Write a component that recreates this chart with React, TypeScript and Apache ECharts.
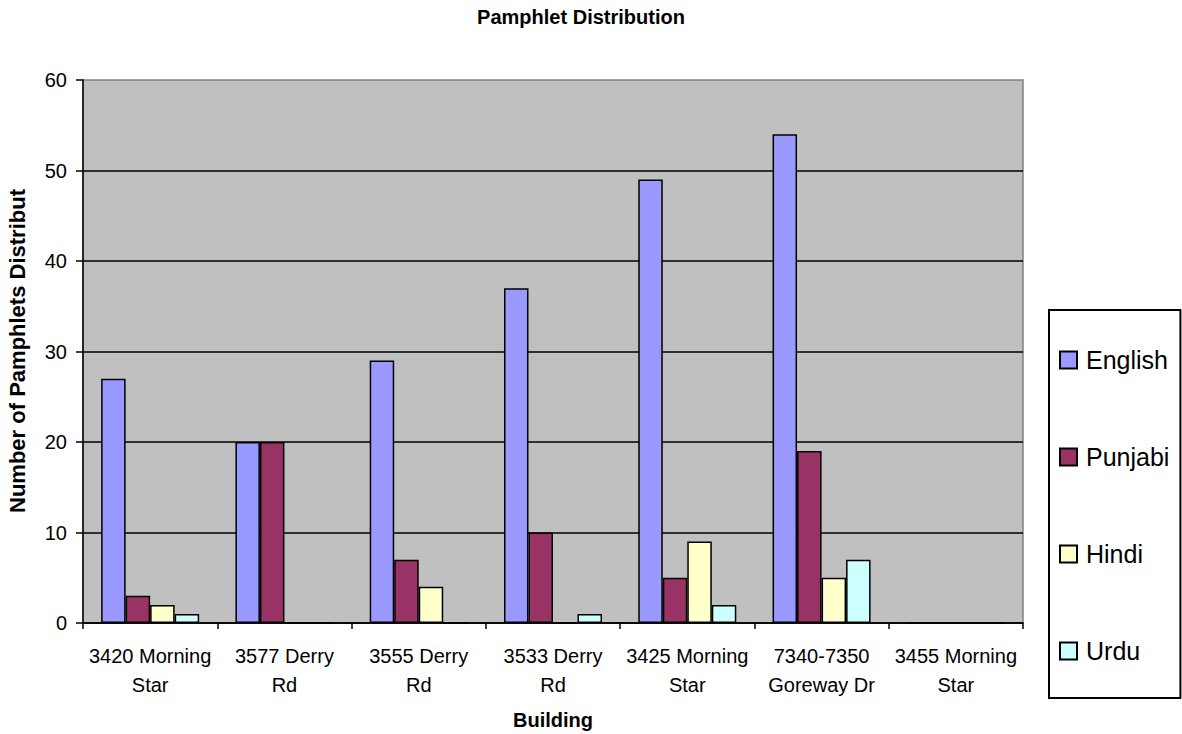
import React, { useEffect, useRef } from "react";
import * as echarts from "echarts";

const categories = [
  "3420 Morning\nStar",
  "3577 Derry\nRd",
  "3555 Derry\nRd",
  "3533 Derry\nRd",
  "3425 Morning\nStar",
  "7340-7350\nGoreway Dr",
  "3455 Morning\nStar",
];
const seriesNames = ["English", "Punjabi", "Hindi", "Urdu"];
const english = [27, 20, 29, 37, 49, 54, 0];
const punjabi = [3, 20, 7, 10, 5, 19, 0];
const hindi = [2, 0, 4, 0, 9, 5, 0];
const urdu = [1, 0, 0, 1, 2, 7, 0];
const colors = ["#9999FF", "#993366", "#FFFFCC", "#CCFFFF"];

export default function App() {
  const ref = useRef<HTMLDivElement>(null);
  useEffect(() => {
    document.body.style.margin = "0";
    const chart = echarts.init(ref.current!, null, { renderer: "svg" });
    const font = "'Liberation Sans', Arial, sans-serif";
    const values = [english, punjabi, hindi, urdu];
    const series = seriesNames.map((name, i) => ({
      type: "bar",
      name,
      data: values[i],
      barGap: "0%",
      barCategoryGap: "27%",
      itemStyle: { color: colors[i], borderColor: "#000", borderWidth: 1.5 },
    }));
    chart.setOption({
      animation: false,
      textStyle: { fontFamily: font },
      grid: {
        left: 83,
        right: 159,
        top: 80,
        bottom: 111,
        show: true,
        backgroundColor: "#C0C0C0",
        borderColor: "#808080",
        borderWidth: 1.5,
      },
      legend: {
        orient: "vertical",
        left: 1049,
        top: 310,
        padding: [35, 11, 32, 10],
        itemGap: 67,
        itemWidth: 17,
        itemHeight: 17,
        icon: "rect",
        borderColor: "#000",
        borderWidth: 2,
        textStyle: {
          fontSize: 25,
          fontFamily: font,
          color: "#000",
          lineHeight: 30,
          padding: [0, 0, 0, 4],
        },
        data: seriesNames,
      },
      xAxis: {
        type: "category",
        data: categories,
        axisLine: { lineStyle: { color: "#000", width: 1.5 } },
        axisTick: { show: true, length: 6, lineStyle: { color: "#000", width: 1.5 } },
        axisLabel: {
          fontSize: 20,
          color: "#000",
          fontFamily: font,
          lineHeight: 29,
          margin: 18,
          interval: 0,
        },
      },
      yAxis: {
        type: "value",
        min: 0,
        max: 60,
        interval: 10,
        axisLine: { show: true, lineStyle: { color: "#000", width: 1.5 } },
        axisTick: { show: true, length: 7, lineStyle: { color: "#000", width: 1.5 } },
        axisLabel: { fontSize: 20, color: "#000", fontFamily: font, margin: 16 },
        splitLine: {
          show: true,
          showMaxLine: false,
          lineStyle: { color: "#000", width: 1.5 },
        },
      },
      graphic: [
        {
          type: "text",
          x: 581,
          y: 17,
          style: {
            text: "Pamphlet Distribution",
            font: `bold 20px ${font}`,
            fill: "#000",
            textAlign: "center",
            textVerticalAlign: "middle",
          },
        },
        {
          type: "text",
          x: 553,
          y: 720,
          style: {
            text: "Building",
            font: `bold 20px ${font}`,
            fill: "#000",
            textAlign: "center",
            textVerticalAlign: "middle",
          },
        },
        {
          type: "text",
          x: 17,
          y: 351,
          rotation: Math.PI / 2,
          style: {
            text: "Number of Pamphlets Distribut",
            font: `bold 22px ${font}`,
            fill: "#000",
            textAlign: "center",
            textVerticalAlign: "middle",
          },
        },
      ],
      series,
    });
    return () => chart.dispose();
  }, []);
  return <div ref={ref} style={{ width: 1182, height: 734 }} />;
}
